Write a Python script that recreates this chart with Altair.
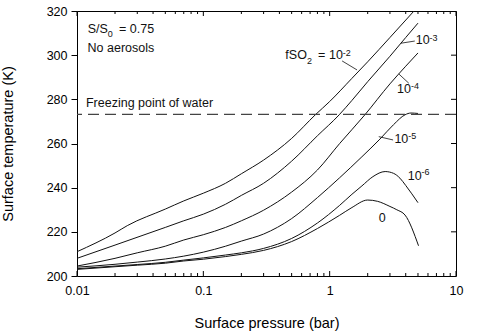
import altair as alt
import pandas as pd

# ---- data ----
P_M2 = [0.01, 0.02, 0.025, 0.05, 0.07, 0.1, 0.15, 0.2, 0.3, 0.5, 0.77, 1, 1.5, 2, 3, 4.65]
T_M2 = [211, 219.5, 222.8, 230.3, 234, 237.5, 242, 246.3, 252.5, 262.3, 273, 279, 289.5, 297, 308, 320]

P_M3 = [0.01, 0.02, 0.05, 0.07, 0.1, 0.15, 0.2, 0.3, 0.5, 0.8, 1.19, 1.5, 2, 3, 4, 5]
T_M3 = [208, 214, 222, 225, 228, 232.5, 236.5, 242, 252, 263.5, 273, 279.5, 288, 299.5, 308, 314.5]

P_M4 = [0.01, 0.02, 0.03, 0.05, 0.07, 0.1, 0.15, 0.2, 0.3, 0.5, 0.8, 1.2, 1.9, 3, 4, 5]
T_M4 = [204.5, 208, 210.5, 213.5, 216.3, 218.7, 222, 225, 229.8, 238, 248, 260, 273, 287, 295, 301]

P_M5 = [0.01, 0.02, 0.03, 0.05, 0.07, 0.1, 0.15, 0.2, 0.3, 0.5, 0.8, 1.2, 1.8, 2.5, 3.2, 3.95, 4.4, 5]
T_M5 = [204, 205.3, 206.3, 207.7, 209, 210.8, 213.5, 215.8, 219, 226, 235.5, 244.5, 254, 262, 268.5, 273, 273.8, 273.6]

P_M6 = [0.01, 0.02, 0.03, 0.05, 0.07, 0.1, 0.15, 0.2, 0.3, 0.5, 0.8, 1.2, 1.5, 1.8, 2.2, 2.75, 3.2, 3.6, 4, 5]
T_M6 = [203.3, 204.5, 205.2, 206.2, 207.2, 208.2, 209.5, 210.5, 212.5, 217, 224, 232, 237, 240.8, 245, 247.3, 246.5, 244.3, 241, 233.2]

P_0 = [0.01, 0.02, 0.03, 0.05, 0.07, 0.1, 0.15, 0.2, 0.3, 0.5, 0.8, 1.2, 1.5, 2.0, 2.4, 3.0, 3.4, 3.95, 5.05]
T_0 = [203, 204.2, 204.9, 205.8, 206.8, 207.6, 208.8, 209.8, 211.6, 215.6, 221.5, 227.5, 231, 234.4, 233.8, 231.5, 230, 227.6, 213.7]

SERIES = ["1e-2", "1e-3", "1e-4", "1e-5", "1e-6", "0"]
FREEZING = 273.15

X_MAJOR = [0.01, 0.1, 1, 10]
X_MINOR = [0.02, 0.03, 0.04, 0.05, 0.06, 0.07, 0.08, 0.09,
           0.2, 0.3, 0.4, 0.5, 0.6, 0.7, 0.8, 0.9,
           2, 3, 4, 5, 6, 7, 8, 9]
Y_TICKS = [200, 220, 240, 260, 280, 300, 320]

rows = []
for name, ps, ts in zip(SERIES, [P_M2, P_M3, P_M4, P_M5, P_M6, P_0],
                        [T_M2, T_M3, T_M4, T_M5, T_M6, T_0]):
    for p, t in zip(ps, ts):
        rows.append({"series": name, "p": p, "T": t})
df = pd.DataFrame(rows)

# ---- annotations (placed in data coordinates) ----
big_text = pd.DataFrame({
    "txt": ["S/S", "= 0.75", "No aerosols", "Freezing point of water",
            "fSO", "=", "10", "10", "10", "10", "10", "0"],
    "p": [0.01216, 0.02151, 0.01212, 0.01178, 0.4459, 0.8092, 0.989,
          4.806, 3.418, 3.253, 4.153, 2.447],
    "T": [309.9, 309.9, 301.6, 276.4, 298.1, 298.1, 298.1,
          304.9, 282.7, 260.1, 243.5, 224.3],
})
small_text = pd.DataFrame({
    "txt": ["0", "2", "-2", "-3", "-4", "-5", "-6"],
    "p": [0.01755, 0.6622, 1.272, 6.18, 4.395, 4.184, 5.342],
    "T": [308.2, 296.0, 299.8, 306.6, 284.6, 261.9, 245.7],
})
leaders = pd.DataFrame({
    "p": [1.254, 3.655, 3.525, 2.447],
    "T": [297.4, 305.4, 291.5, 263.1],
    "p2": [1.648, 4.719, 4.23, 3.177],
    "T2": [293.3, 306.4, 287.3, 261.6],
})

W, H = 379, 265
FONT = "Liberation Sans"
INK = "#111111"
xs = alt.Scale(type="log", domain=[0.01, 10], nice=False)
ys = alt.Scale(domain=[200, 320], nice=False, zero=False)

x_axis = alt.Axis(
    values=X_MAJOR, format="~g", ticks=False, domain=False, grid=False,
    labelFlush=False, labelOverlap=False,
    labelPadding=8, labelFontSize=12.5, labelFont=FONT, labelColor="#000",
    title="Surface pressure (bar)", titleFont=FONT, titleFontSize=14.5,
    titleFontWeight="normal", titleColor="#000", titleY=51.3,
    titleBaseline="alphabetic")
y_axis = alt.Axis(
    values=Y_TICKS, tickSize=6, tickColor="#000", domain=False, grid=False,
    labelFlush=False, labelOverlap=False,
    labelPadding=4, labelFontSize=12.5, labelFont=FONT, labelColor="#000",
    title="Surface temperature (K)", titleFont=FONT, titleFontSize=14.5,
    titleFontWeight="normal", titleColor="#000", titleX=-65, titleY=H / 2,
    titleBaseline="alphabetic")

lines = alt.Chart(df).mark_line(
    color=INK, strokeWidth=1, clip=True, interpolate="monotone"
).encode(
    x=alt.X("p:Q", scale=xs, axis=x_axis),
    y=alt.Y("T:Q", scale=ys, axis=y_axis),
    detail="series:N",
)

freeze = alt.Chart(pd.DataFrame({"T": [FREEZING]})).mark_rule(
    color="#444444", strokeDash=[11, 6], strokeWidth=1.3
).encode(y=alt.Y("T:Q", scale=ys))

tick_major = pd.DataFrame({"p": X_MAJOR})
tick_minor = pd.DataFrame({"p": X_MINOR})
tick_y = pd.DataFrame({"T": Y_TICKS[1:-1]})

def xtick(data, y0, y1):
    return alt.Chart(data).mark_rule(color="#000", strokeWidth=1).encode(
        x=alt.X("p:Q", scale=xs), y=alt.value(y0), y2=alt.value(y1))

bx_major = xtick(tick_major, H, H - 5)
bx_minor = xtick(tick_minor, H, H - 3)
tx_major = xtick(tick_major, 0, 5)
tx_minor = xtick(tick_minor, 0, 3)
ry = alt.Chart(tick_y).mark_rule(color="#000", strokeWidth=1).encode(
    y=alt.Y("T:Q", scale=ys), x=alt.value(W), x2=alt.value(W - 5))

txt_big = alt.Chart(big_text).mark_text(
    align="left", baseline="alphabetic", font=FONT, fontSize=12.5, color=INK
).encode(x=alt.X("p:Q", scale=xs), y=alt.Y("T:Q", scale=ys), text="txt:N")
txt_small = alt.Chart(small_text).mark_text(
    align="left", baseline="alphabetic", font=FONT, fontSize=9, color=INK
).encode(x=alt.X("p:Q", scale=xs), y=alt.Y("T:Q", scale=ys), text="txt:N")
lead = alt.Chart(leaders).mark_rule(color=INK, strokeWidth=0.8).encode(
    x=alt.X("p:Q", scale=xs), y=alt.Y("T:Q", scale=ys),
    x2="p2:Q", y2="T2:Q")

chart = alt.layer(
    lines, freeze, bx_major, bx_minor, tx_major, tx_minor, ry, lead, txt_big, txt_small
).properties(
    width=W, height=H, autosize="none",
    padding={"left": 77, "top": 11, "right": 28, "bottom": 59},
    background="#ffffff",
).configure_view(stroke="#000", strokeWidth=1)

chart.save("out.html", embed_options={"renderer": "svg", "actions": False})
